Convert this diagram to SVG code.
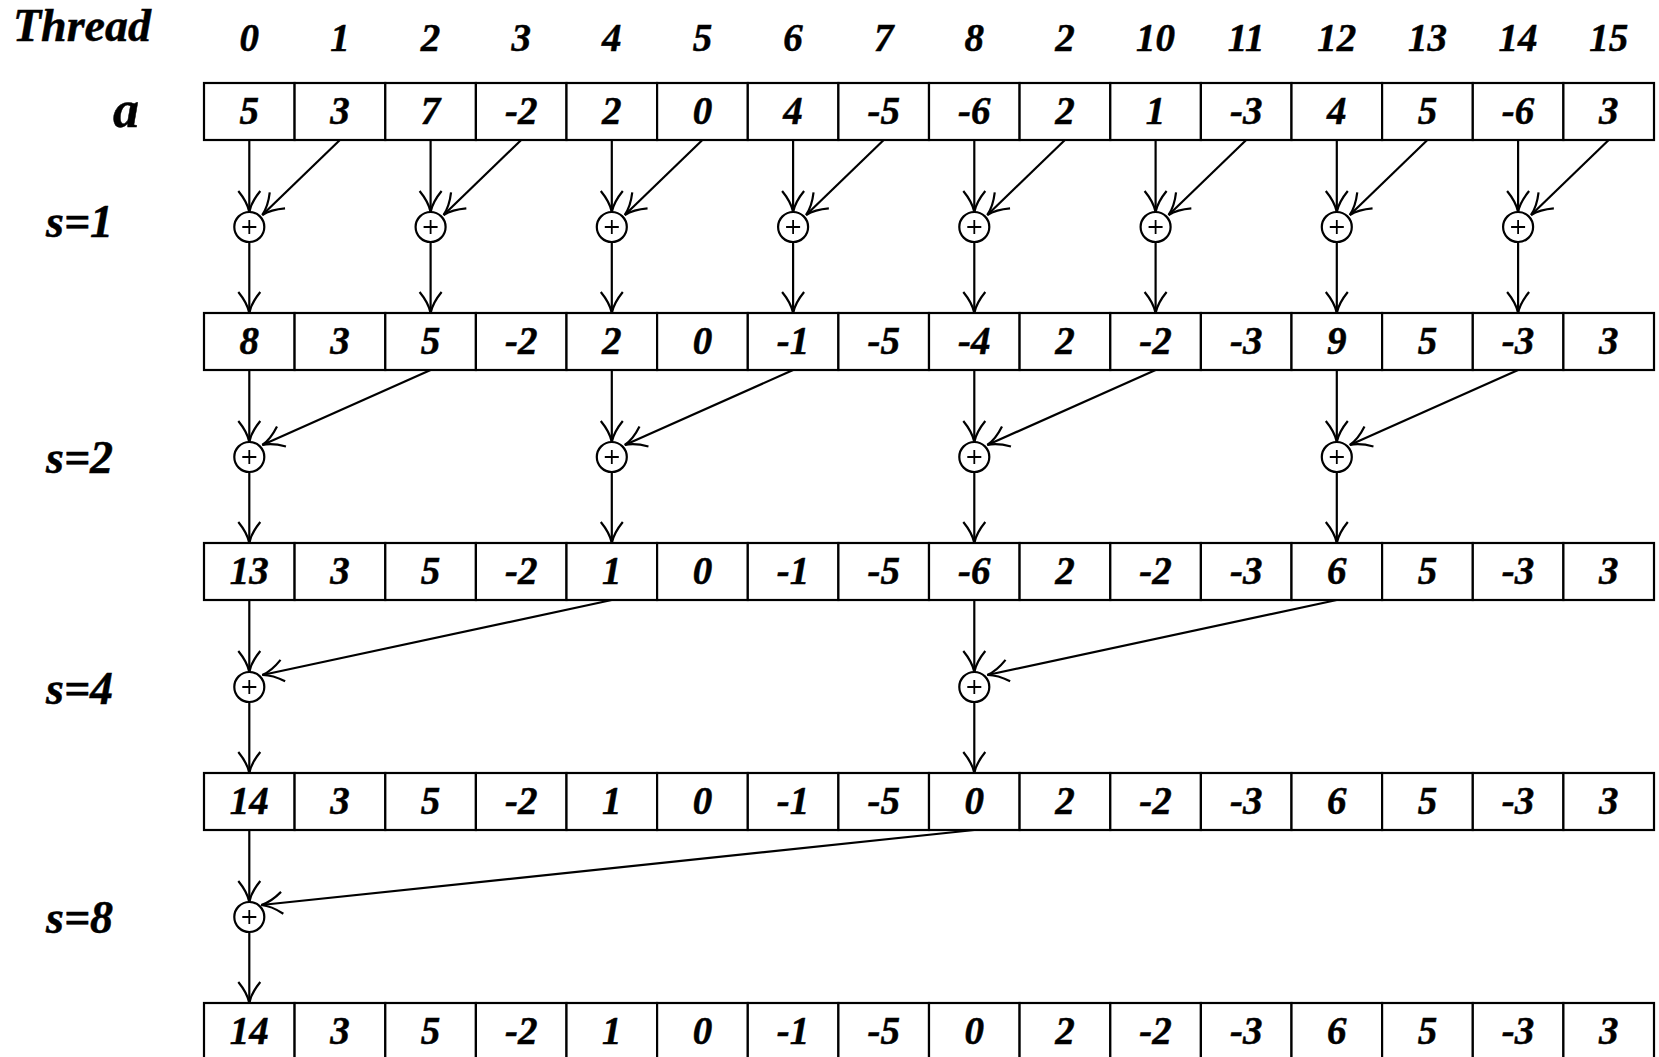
<svg xmlns="http://www.w3.org/2000/svg" width="1659" height="1057" viewBox="0 0 1659 1057">
<style>
.bg{fill:#fff}
.cell{fill:#fff;stroke:#000;stroke-width:2.2}
.t{font-family:"Liberation Serif","Times New Roman",serif;font-weight:bold;font-style:italic;fill:#000;stroke:#000;stroke-width:0.5}
.num{font-size:39px;text-anchor:middle}
.lab{font-size:46px}
.op circle{fill:#fff;stroke:#000;stroke-width:2.2}
.op path{stroke:#000;stroke-width:1.8;fill:none}
.conn line{stroke:#000;stroke-width:2.2;fill:none;marker-end:url(#ah)}
</style>
<defs>
<marker id="ah" markerUnits="userSpaceOnUse" viewBox="-24 -13 26 26" markerWidth="26" markerHeight="26" refX="0" refY="0" orient="auto" overflow="visible">
<path d="M-21,-11 Q-10,-2 0,0 Q-10,2 -21,11" fill="none" stroke="#000" stroke-width="2.2"/>
</marker>
</defs>
<rect class="bg" x="0" y="0" width="1659" height="1057"/>

<g id="labels" class="t">
<text class="lab" x="13" y="41">Thread</text>
<text class="lab" x="113" y="127" style="font-size:52px">a</text>
<text class="lab" x="46" y="237">s=1</text>
<text class="lab" x="46" y="473">s=2</text>
<text class="lab" x="46" y="704">s=4</text>
<text class="lab" x="46" y="933">s=8</text>
</g>

<g id="thread-index" class="t num">
<text x="249.3" y="51">0</text>
<text x="339.9" y="51">1</text>
<text x="430.6" y="51">2</text>
<text x="521.2" y="51">3</text>
<text x="611.8" y="51">4</text>
<text x="702.4" y="51">5</text>
<text x="793.1" y="51">6</text>
<text x="883.7" y="51">7</text>
<text x="974.3" y="51">8</text>
<text x="1064.9" y="51">2</text>
<text x="1155.6" y="51">10</text>
<text x="1246.2" y="51">11</text>
<text x="1336.8" y="51">12</text>
<text x="1427.4" y="51">13</text>
<text x="1518.1" y="51">14</text>
<text x="1608.7" y="51">15</text>
</g>

<g id="connectors" class="conn">
<!-- s=1 -->
<line x1="249.3" y1="140" x2="249.3" y2="212"/>
<line x1="339.9" y1="140" x2="262.3" y2="215"/>
<line x1="430.6" y1="140" x2="430.6" y2="212"/>
<line x1="521.2" y1="140" x2="443.6" y2="215"/>
<line x1="611.8" y1="140" x2="611.8" y2="212"/>
<line x1="702.4" y1="140" x2="624.8" y2="215"/>
<line x1="793.1" y1="140" x2="793.1" y2="212"/>
<line x1="883.7" y1="140" x2="806.1" y2="215"/>
<line x1="974.3" y1="140" x2="974.3" y2="212"/>
<line x1="1064.9" y1="140" x2="987.3" y2="215"/>
<line x1="1155.6" y1="140" x2="1155.6" y2="212"/>
<line x1="1246.2" y1="140" x2="1168.6" y2="215"/>
<line x1="1336.8" y1="140" x2="1336.8" y2="212"/>
<line x1="1427.4" y1="140" x2="1349.8" y2="215"/>
<line x1="1518.1" y1="140" x2="1518.1" y2="212"/>
<line x1="1608.7" y1="140" x2="1531.1" y2="215"/>
<line x1="249.3" y1="242" x2="249.3" y2="313"/>
<line x1="430.6" y1="242" x2="430.6" y2="313"/>
<line x1="611.8" y1="242" x2="611.8" y2="313"/>
<line x1="793.1" y1="242" x2="793.1" y2="313"/>
<line x1="974.3" y1="242" x2="974.3" y2="313"/>
<line x1="1155.6" y1="242" x2="1155.6" y2="313"/>
<line x1="1336.8" y1="242" x2="1336.8" y2="313"/>
<line x1="1518.1" y1="242" x2="1518.1" y2="313"/>
<!-- s=2 -->
<line x1="249.3" y1="370" x2="249.3" y2="442"/>
<line x1="430.6" y1="370" x2="262.3" y2="445"/>
<line x1="611.8" y1="370" x2="611.8" y2="442"/>
<line x1="793.1" y1="370" x2="624.8" y2="445"/>
<line x1="974.3" y1="370" x2="974.3" y2="442"/>
<line x1="1155.6" y1="370" x2="987.3" y2="445"/>
<line x1="1336.8" y1="370" x2="1336.8" y2="442"/>
<line x1="1518.1" y1="370" x2="1349.8" y2="445"/>
<line x1="249.3" y1="472" x2="249.3" y2="543"/>
<line x1="611.8" y1="472" x2="611.8" y2="543"/>
<line x1="974.3" y1="472" x2="974.3" y2="543"/>
<line x1="1336.8" y1="472" x2="1336.8" y2="543"/>
<!-- s=4 -->
<line x1="249.3" y1="600" x2="249.3" y2="672"/>
<line x1="611.8" y1="600" x2="262.3" y2="675"/>
<line x1="974.3" y1="600" x2="974.3" y2="672"/>
<line x1="1336.8" y1="600" x2="987.3" y2="675"/>
<line x1="249.3" y1="702" x2="249.3" y2="773"/>
<line x1="974.3" y1="702" x2="974.3" y2="773"/>
<!-- s=8 -->
<line x1="249.3" y1="830" x2="249.3" y2="902"/>
<line x1="974.3" y1="830" x2="261.3" y2="905"/>
<line x1="249.3" y1="932" x2="249.3" y2="1003"/>
</g>

<g id="row-a">
<rect class="cell" x="204" y="83" width="90.6" height="57"/>
<rect class="cell" x="294.6" y="83" width="90.7" height="57"/>
<rect class="cell" x="385.3" y="83" width="90.6" height="57"/>
<rect class="cell" x="475.9" y="83" width="90.6" height="57"/>
<rect class="cell" x="566.5" y="83" width="90.6" height="57"/>
<rect class="cell" x="657.1" y="83" width="90.7" height="57"/>
<rect class="cell" x="747.8" y="83" width="90.6" height="57"/>
<rect class="cell" x="838.4" y="83" width="90.6" height="57"/>
<rect class="cell" x="929" y="83" width="90.6" height="57"/>
<rect class="cell" x="1019.6" y="83" width="90.7" height="57"/>
<rect class="cell" x="1110.3" y="83" width="90.6" height="57"/>
<rect class="cell" x="1200.9" y="83" width="90.6" height="57"/>
<rect class="cell" x="1291.5" y="83" width="90.6" height="57"/>
<rect class="cell" x="1382.1" y="83" width="90.7" height="57"/>
<rect class="cell" x="1472.8" y="83" width="90.6" height="57"/>
<rect class="cell" x="1563.4" y="83" width="90.6" height="57"/>
<g class="t num">
<text x="249.3" y="124">5</text><text x="339.9" y="124">3</text><text x="430.6" y="124">7</text><text x="521.2" y="124">-2</text>
<text x="611.8" y="124">2</text><text x="702.4" y="124">0</text><text x="793.1" y="124">4</text><text x="883.7" y="124">-5</text>
<text x="974.3" y="124">-6</text><text x="1064.9" y="124">2</text><text x="1155.6" y="124">1</text><text x="1246.2" y="124">-3</text>
<text x="1336.8" y="124">4</text><text x="1427.4" y="124">5</text><text x="1518.1" y="124">-6</text><text x="1608.7" y="124">3</text>
</g>
</g>

<g id="row-s1">
<rect class="cell" x="204" y="313" width="90.6" height="57"/>
<rect class="cell" x="294.6" y="313" width="90.7" height="57"/>
<rect class="cell" x="385.3" y="313" width="90.6" height="57"/>
<rect class="cell" x="475.9" y="313" width="90.6" height="57"/>
<rect class="cell" x="566.5" y="313" width="90.6" height="57"/>
<rect class="cell" x="657.1" y="313" width="90.7" height="57"/>
<rect class="cell" x="747.8" y="313" width="90.6" height="57"/>
<rect class="cell" x="838.4" y="313" width="90.6" height="57"/>
<rect class="cell" x="929" y="313" width="90.6" height="57"/>
<rect class="cell" x="1019.6" y="313" width="90.7" height="57"/>
<rect class="cell" x="1110.3" y="313" width="90.6" height="57"/>
<rect class="cell" x="1200.9" y="313" width="90.6" height="57"/>
<rect class="cell" x="1291.5" y="313" width="90.6" height="57"/>
<rect class="cell" x="1382.1" y="313" width="90.7" height="57"/>
<rect class="cell" x="1472.8" y="313" width="90.6" height="57"/>
<rect class="cell" x="1563.4" y="313" width="90.6" height="57"/>
<g class="t num">
<text x="249.3" y="354">8</text><text x="339.9" y="354">3</text><text x="430.6" y="354">5</text><text x="521.2" y="354">-2</text>
<text x="611.8" y="354">2</text><text x="702.4" y="354">0</text><text x="793.1" y="354">-1</text><text x="883.7" y="354">-5</text>
<text x="974.3" y="354">-4</text><text x="1064.9" y="354">2</text><text x="1155.6" y="354">-2</text><text x="1246.2" y="354">-3</text>
<text x="1336.8" y="354">9</text><text x="1427.4" y="354">5</text><text x="1518.1" y="354">-3</text><text x="1608.7" y="354">3</text>
</g>
</g>

<g id="row-s2">
<rect class="cell" x="204" y="543" width="90.6" height="57"/>
<rect class="cell" x="294.6" y="543" width="90.7" height="57"/>
<rect class="cell" x="385.3" y="543" width="90.6" height="57"/>
<rect class="cell" x="475.9" y="543" width="90.6" height="57"/>
<rect class="cell" x="566.5" y="543" width="90.6" height="57"/>
<rect class="cell" x="657.1" y="543" width="90.7" height="57"/>
<rect class="cell" x="747.8" y="543" width="90.6" height="57"/>
<rect class="cell" x="838.4" y="543" width="90.6" height="57"/>
<rect class="cell" x="929" y="543" width="90.6" height="57"/>
<rect class="cell" x="1019.6" y="543" width="90.7" height="57"/>
<rect class="cell" x="1110.3" y="543" width="90.6" height="57"/>
<rect class="cell" x="1200.9" y="543" width="90.6" height="57"/>
<rect class="cell" x="1291.5" y="543" width="90.6" height="57"/>
<rect class="cell" x="1382.1" y="543" width="90.7" height="57"/>
<rect class="cell" x="1472.8" y="543" width="90.6" height="57"/>
<rect class="cell" x="1563.4" y="543" width="90.6" height="57"/>
<g class="t num">
<text x="249.3" y="584">13</text><text x="339.9" y="584">3</text><text x="430.6" y="584">5</text><text x="521.2" y="584">-2</text>
<text x="611.8" y="584">1</text><text x="702.4" y="584">0</text><text x="793.1" y="584">-1</text><text x="883.7" y="584">-5</text>
<text x="974.3" y="584">-6</text><text x="1064.9" y="584">2</text><text x="1155.6" y="584">-2</text><text x="1246.2" y="584">-3</text>
<text x="1336.8" y="584">6</text><text x="1427.4" y="584">5</text><text x="1518.1" y="584">-3</text><text x="1608.7" y="584">3</text>
</g>
</g>

<g id="row-s4">
<rect class="cell" x="204" y="773" width="90.6" height="57"/>
<rect class="cell" x="294.6" y="773" width="90.7" height="57"/>
<rect class="cell" x="385.3" y="773" width="90.6" height="57"/>
<rect class="cell" x="475.9" y="773" width="90.6" height="57"/>
<rect class="cell" x="566.5" y="773" width="90.6" height="57"/>
<rect class="cell" x="657.1" y="773" width="90.7" height="57"/>
<rect class="cell" x="747.8" y="773" width="90.6" height="57"/>
<rect class="cell" x="838.4" y="773" width="90.6" height="57"/>
<rect class="cell" x="929" y="773" width="90.6" height="57"/>
<rect class="cell" x="1019.6" y="773" width="90.7" height="57"/>
<rect class="cell" x="1110.3" y="773" width="90.6" height="57"/>
<rect class="cell" x="1200.9" y="773" width="90.6" height="57"/>
<rect class="cell" x="1291.5" y="773" width="90.6" height="57"/>
<rect class="cell" x="1382.1" y="773" width="90.7" height="57"/>
<rect class="cell" x="1472.8" y="773" width="90.6" height="57"/>
<rect class="cell" x="1563.4" y="773" width="90.6" height="57"/>
<g class="t num">
<text x="249.3" y="814">14</text><text x="339.9" y="814">3</text><text x="430.6" y="814">5</text><text x="521.2" y="814">-2</text>
<text x="611.8" y="814">1</text><text x="702.4" y="814">0</text><text x="793.1" y="814">-1</text><text x="883.7" y="814">-5</text>
<text x="974.3" y="814">0</text><text x="1064.9" y="814">2</text><text x="1155.6" y="814">-2</text><text x="1246.2" y="814">-3</text>
<text x="1336.8" y="814">6</text><text x="1427.4" y="814">5</text><text x="1518.1" y="814">-3</text><text x="1608.7" y="814">3</text>
</g>
</g>

<g id="row-s8">
<rect class="cell" x="204" y="1003" width="90.6" height="57"/>
<rect class="cell" x="294.6" y="1003" width="90.7" height="57"/>
<rect class="cell" x="385.3" y="1003" width="90.6" height="57"/>
<rect class="cell" x="475.9" y="1003" width="90.6" height="57"/>
<rect class="cell" x="566.5" y="1003" width="90.6" height="57"/>
<rect class="cell" x="657.1" y="1003" width="90.7" height="57"/>
<rect class="cell" x="747.8" y="1003" width="90.6" height="57"/>
<rect class="cell" x="838.4" y="1003" width="90.6" height="57"/>
<rect class="cell" x="929" y="1003" width="90.6" height="57"/>
<rect class="cell" x="1019.6" y="1003" width="90.7" height="57"/>
<rect class="cell" x="1110.3" y="1003" width="90.6" height="57"/>
<rect class="cell" x="1200.9" y="1003" width="90.6" height="57"/>
<rect class="cell" x="1291.5" y="1003" width="90.6" height="57"/>
<rect class="cell" x="1382.1" y="1003" width="90.7" height="57"/>
<rect class="cell" x="1472.8" y="1003" width="90.6" height="57"/>
<rect class="cell" x="1563.4" y="1003" width="90.6" height="57"/>
<g class="t num">
<text x="249.3" y="1044">14</text><text x="339.9" y="1044">3</text><text x="430.6" y="1044">5</text><text x="521.2" y="1044">-2</text>
<text x="611.8" y="1044">1</text><text x="702.4" y="1044">0</text><text x="793.1" y="1044">-1</text><text x="883.7" y="1044">-5</text>
<text x="974.3" y="1044">0</text><text x="1064.9" y="1044">2</text><text x="1155.6" y="1044">-2</text><text x="1246.2" y="1044">-3</text>
<text x="1336.8" y="1044">6</text><text x="1427.4" y="1044">5</text><text x="1518.1" y="1044">-3</text><text x="1608.7" y="1044">3</text>
</g>
</g>

<g id="add-s1-0" class="op"><circle cx="249.3" cy="227" r="15"/><path d="M242.3,227H256.3M249.3,220V234"/></g>
<g id="add-s1-2" class="op"><circle cx="430.6" cy="227" r="15"/><path d="M423.6,227H437.6M430.6,220V234"/></g>
<g id="add-s1-4" class="op"><circle cx="611.8" cy="227" r="15"/><path d="M604.8,227H618.8M611.8,220V234"/></g>
<g id="add-s1-6" class="op"><circle cx="793.1" cy="227" r="15"/><path d="M786.1,227H800.1M793.1,220V234"/></g>
<g id="add-s1-8" class="op"><circle cx="974.3" cy="227" r="15"/><path d="M967.3,227H981.3M974.3,220V234"/></g>
<g id="add-s1-10" class="op"><circle cx="1155.6" cy="227" r="15"/><path d="M1148.6,227H1162.6M1155.6,220V234"/></g>
<g id="add-s1-12" class="op"><circle cx="1336.8" cy="227" r="15"/><path d="M1329.8,227H1343.8M1336.8,220V234"/></g>
<g id="add-s1-14" class="op"><circle cx="1518.1" cy="227" r="15"/><path d="M1511.1,227H1525.1M1518.1,220V234"/></g>

<g id="add-s2-0" class="op"><circle cx="249.3" cy="457" r="15"/><path d="M242.3,457H256.3M249.3,450V464"/></g>
<g id="add-s2-4" class="op"><circle cx="611.8" cy="457" r="15"/><path d="M604.8,457H618.8M611.8,450V464"/></g>
<g id="add-s2-8" class="op"><circle cx="974.3" cy="457" r="15"/><path d="M967.3,457H981.3M974.3,450V464"/></g>
<g id="add-s2-12" class="op"><circle cx="1336.8" cy="457" r="15"/><path d="M1329.8,457H1343.8M1336.8,450V464"/></g>

<g id="add-s4-0" class="op"><circle cx="249.3" cy="687" r="15"/><path d="M242.3,687H256.3M249.3,680V694"/></g>
<g id="add-s4-8" class="op"><circle cx="974.3" cy="687" r="15"/><path d="M967.3,687H981.3M974.3,680V694"/></g>

<g id="add-s8-0" class="op"><circle cx="249.3" cy="917" r="15"/><path d="M242.3,917H256.3M249.3,910V924"/></g>
</svg>
